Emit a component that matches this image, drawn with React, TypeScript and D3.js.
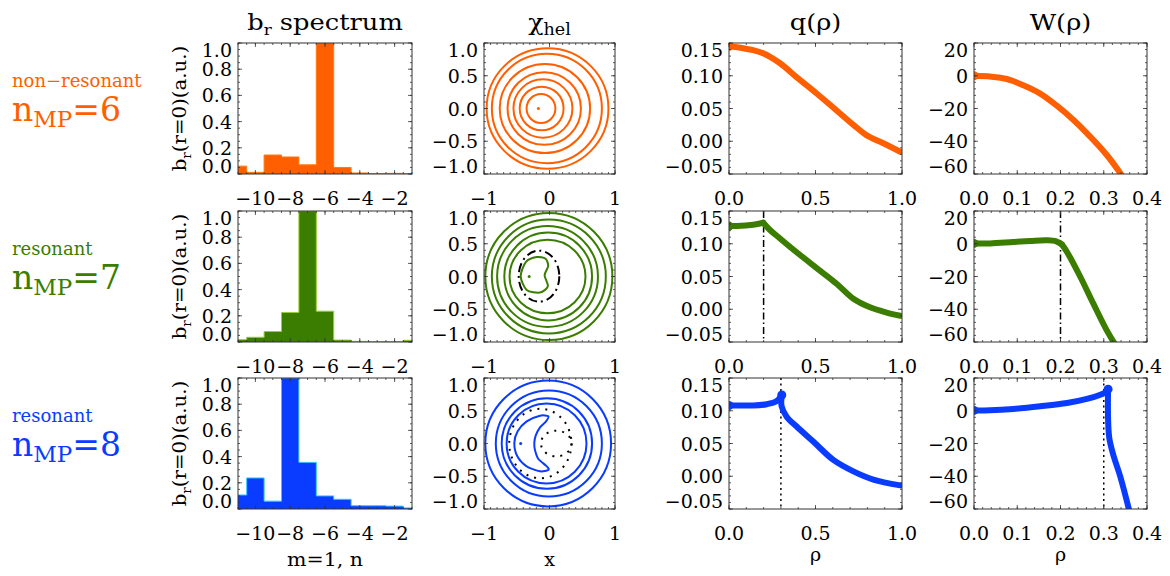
import React from "react";
import * as d3 from "d3";

// ---- values ----
const toroidalN = [-11, -10, -9, -8, -7, -6, -5, -4, -3, -2, -1];
const spectrumN6 = [0.06, 0.013, 0.145, 0.13, 0.07, 1.0, 0.05, 0.008, 0.004, 0.005, 0.003];
const spectrumN7 = [0.018, 0.036, 0.08, 0.225, 1.0, 0.235, 0.015, 0.005, 0.003, 0.003, 0.013];
const spectrumN8 = [0.107, 0.237, 0.06, 1.0, 0.356, 0.1, 0.074, 0.025, 0.025, 0.022, 0.008];

const rowColors = ["#ff5f00", "#3a7d00", "#0a3cff"];
const rowEdges = ["#ff7a10", "#9acd32", "#35c8ff"];
const rowKind = ["non\u2212resonant", "resonant", "resonant"];
const rowNmp = ["6", "7", "8"];

// helical flux surfaces as [cx, cy, rx, ry]
const surfacesN6 = [
  [-0.03, 0, 0.93, 0.92], [-0.04, 0, 0.84, 0.835], [-0.07, 0, 0.69, 0.68], [-0.08, 0, 0.56, 0.555],
  [-0.1, 0, 0.45, 0.445], [-0.12, 0, 0.335, 0.333], [-0.13, 0, 0.22, 0.22],
];
const surfacesN7 = [
  [-0.01, 0, 0.97, 0.97], [-0.01, 0, 0.87, 0.87], [-0.03, 0, 0.77, 0.77], [-0.02, 0, 0.67, 0.67], [-0.03, 0, 0.58, 0.56],
];
const surfacesN8 = [
  [-0.02, 0, 0.96, 0.96], [-0.01, 0, 0.81, 0.81], [-0.04, 0, 0.69, 0.69], [-0.045, 0, 0.61, 0.61],
];
const magAxis = [[-0.17, 0], [-0.31, 0], [-0.44, 0]];
const islandN7 = [
  [-0.196, 0.298], [-0.06, 0.27], [-0.02, 0.16], [-0.075, 0.02], [-0.025, -0.15],
  [-0.145, -0.245], [-0.349, -0.205], [-0.44, 0.003], [-0.359, 0.225],
];
const islandN8 = [
  [-0.018, 0.415], [-0.145, 0.425], [-0.349, 0.338], [-0.486, 0.186], [-0.537, 0.008],
  [-0.491, -0.196], [-0.349, -0.349], [-0.145, -0.425], [-0.013, -0.4], [-0.053, -0.338],
  [-0.17, -0.237], [-0.221, -0.104], [-0.232, 0.008], [-0.211, 0.12], [-0.145, 0.247], [-0.053, 0.338],
];
const separatrixN7 = [[-0.16, 0.005, 0.31, 0.39]];
const separatrixN8 = [[-0.14, 0, 0.475, 0.53], [0.104, 0, 0.234, 0.196]];

// q(rho), split into segments where the profile jumps
const qN6 = [[[0, 0.145], [0.035, 0.144], [0.14, 0.139], [0.2, 0.134], [0.295, 0.119], [0.39, 0.098], [0.507, 0.073],
  [0.622, 0.047], [0.719, 0.025], [0.796, 0.009], [0.892, -0.003], [0.99, -0.016]]];
const qN7 = [[[0, 0.127], [0.044, 0.127], [0.14, 0.129], [0.198, 0.132]],
  [[0.198, 0.132], [0.237, 0.121], [0.295, 0.108], [0.391, 0.087],
  [0.526, 0.059], [0.622, 0.039], [0.719, 0.016], [0.815, 0.003], [0.911, -0.005], [0.99, -0.01]]];
const qN8 = [[[0, 0.108], [0.044, 0.108], [0.14, 0.108], [0.218, 0.11], [0.276, 0.115], [0.305, 0.124]],
  [[0.305, 0.124], [0.304, 0.107], [0.333, 0.091], [0.391, 0.076], [0.487, 0.053], [0.603, 0.025],
  [0.719, 0.0075], [0.834, -0.005], [0.99, -0.014]]];

// W(rho)
const wN6 = [[[0, 0], [0.037, -0.5], [0.076, -2], [0.114, -5.8], [0.153, -10.9], [0.19, -18], [0.23, -27],
  [0.269, -37.3], [0.307, -48.4], [0.345, -62]]];
const wN7 = [[[0, 0.2], [0.037, 0.2], [0.091, 1.1], [0.13, 1.7], [0.168, 2.1], [0.19, 1.5], [0.203, -0.4]],
  [[0.203, -0.4], [0.215, -5], [0.246, -20.3], [0.276, -36.6], [0.307, -52.9], [0.33, -63]]];
const wN8 = [[[0, 0.2], [0.037, 0.3], [0.091, 1.1], [0.153, 2.7], [0.215, 4.7], [0.261, 7.2], [0.292, 9.8], [0.307, 11.8],
  [0.31, 13.2]],
  [[0.31, 13.2], [0.31, -5], [0.313, -17], [0.323, -27.8], [0.338, -40], [0.36, -62]]];

const islandRho = [null, 0.2, 0.3];
const islandDash = ["", "7,3,1.5,3", "2,3.5"];

const histXTicks = [-10, -8, -6, -4, -2];
const histYTicks = [0, 0.2, 0.4, 0.6, 0.8, 1.0];
const chiTicksX = [-1, 0, 1];
const chiTicksY = [-1, -0.5, 0, 0.5, 1];
const qTicksX = [0, 0.5, 1];
const qTicksY = [-0.05, 0, 0.05, 0.1, 0.15];
const wTicksX = [0, 0.1, 0.2, 0.3, 0.4];
const wTicksY = [-60, -40, -20, 0, 20];

const spectra = [spectrumN6, spectrumN7, spectrumN8];
const surfaces = [surfacesN6, surfacesN7, surfacesN8];
const qProfiles = [qN6, qN7, qN8];
const wProfiles = [wN6, wN7, wN8];

// ---- layout ----
const colLeft = [238, 484, 729, 974];
const colWidth = [174, 131, 173, 173];
const rowTop = [43, 211, 378];
const boxH = 131;
const FONT = "DejaVu Serif";

function Txt({ x, y, anchor = "middle", size = 19, sx = 1, rot = 0, fill = "#000", children }: any) {
  return (
    <text transform={`translate(${x},${y}) rotate(${rot}) scale(${sx},1)`} textAnchor={anchor}
      fontFamily={FONT} fontSize={size} fill={fill}>{children}</text>
  );
}

function Frame({ xs, ys, xTicks, xMinor, yTicks, yMinor, xFmt, yFmt }: any) {
  const [x0, x1] = xs.range();
  const [y1, y0] = ys.range();
  const [dx0, dx1] = xs.domain();
  const [dy0, dy1] = ys.domain();
  const minorX = d3.range(Math.ceil(dx0 / xMinor - 1e-6) * xMinor, dx1 + 1e-9, xMinor);
  const minorY = d3.range(Math.ceil(dy0 / yMinor - 1e-6) * yMinor, dy1 + 1e-9, yMinor);
  const major = 4, minor = 2;
  return (
    <g>
      <rect x={x0} y={y0} width={x1 - x0} height={y1 - y0} fill="none" stroke="#333" strokeWidth={1} />
      <g stroke="#333" strokeWidth={0.8}>
        {minorX.map((v, i) => (
          <g key={"mx" + i}>
            <line x1={xs(v)} x2={xs(v)} y1={y1} y2={y1 - minor} />
            <line x1={xs(v)} x2={xs(v)} y1={y0} y2={y0 + minor} />
          </g>
        ))}
        {minorY.map((v, i) => (
          <g key={"my" + i}>
            <line y1={ys(v)} y2={ys(v)} x1={x0} x2={x0 + minor} />
            <line y1={ys(v)} y2={ys(v)} x1={x1} x2={x1 - minor} />
          </g>
        ))}
        {xTicks.map((v: number, i: number) => (
          <g key={"Mx" + i}>
            <line x1={xs(v)} x2={xs(v)} y1={y1} y2={y1 - major} />
            <line x1={xs(v)} x2={xs(v)} y1={y0} y2={y0 + major} />
          </g>
        ))}
        {yTicks.map((v: number, i: number) => (
          <g key={"My" + i}>
            <line y1={ys(v)} y2={ys(v)} x1={x0} x2={x0 + major} />
            <line y1={ys(v)} y2={ys(v)} x1={x1} x2={x1 - major} />
          </g>
        ))}
      </g>
      {xTicks.map((v: number, i: number) => (
        <Txt key={"lx" + i} x={xs(v)} y={y1 + 31}>{xFmt(v)}</Txt>
      ))}
      {yTicks.map((v: number, i: number) => {
        const c = Math.max(y0 + 7, Math.min(y1 - 8, ys(v)));
        return <Txt key={"ly" + i} x={x0 - 6} y={c + 7} anchor="end">{yFmt(v)}</Txt>;
      })}
    </g>
  );
}

function Row({ r }: { r: number }) {
  const top = rowTop[r];
  const bottom = top + boxH;
  const color = rowColors[r];
  const clip = (c: number) => `url(#clip-${r}-${c})`;

  // spectrum
  const hx = d3.scaleLinear().domain([-11, -1]).range([colLeft[0], colLeft[0] + colWidth[0]]);
  const hy = d3.scaleLinear().domain([0, 1]).range([bottom, top]);
  const vals = spectra[r];
  const steps = toroidalN.map((n, i) => [n - 0.5, vals[i]]);
  steps.push([toroidalN[toroidalN.length - 1] + 0.5, vals[vals.length - 1]]);
  const hArea = d3.area<number[]>().x(d => hx(d[0])).y0(hy(0)).y1(d => hy(d[1])).curve(d3.curveStepAfter);
  const hLine = d3.line<number[]>().x(d => hx(d[0])).y(d => hy(d[1])).curve(d3.curveStepAfter);

  // chi_hel
  const cx = d3.scaleLinear().domain([-1, 1]).range([colLeft[1], colLeft[1] + colWidth[1]]);
  const cy = d3.scaleLinear().domain([-1, 1]).range([bottom, top]);
  const closed = d3.line<number[]>().x(d => cx(d[0])).y(d => cy(d[1])).curve(d3.curveCardinalClosed.tension(0.2));

  // q and W
  const qx = d3.scaleLinear().domain([0, 1]).range([colLeft[2], colLeft[2] + colWidth[2]]);
  const qy = d3.scaleLinear().domain([-0.05, 0.15]).range([bottom, top]);
  const wx = d3.scaleLinear().domain([0, 0.4]).range([colLeft[3], colLeft[3] + colWidth[3]]);
  const wy = d3.scaleLinear().domain([-60, 20]).range([bottom, top]);
  const qLine = d3.line<number[]>().x(d => qx(d[0])).y(d => qy(d[1])).curve(d3.curveCatmullRom.alpha(0.5));
  const wLine = d3.line<number[]>().x(d => wx(d[0])).y(d => wy(d[1])).curve(d3.curveCatmullRom.alpha(0.5));

  const fmt1 = d3.format(".1f");
  const fmt2 = d3.format(".2f");
  const fmtd = d3.format("d");

  const rho = islandRho[r];
  const q = qProfiles[r];
  const w = wProfiles[r];
  // dots at the axis, and at the island edge where the profile jumps
  const qDots = r === 2 ? [q[0][0], q[1][0]] : [q[0][0]];
  const wDots = r === 2 ? [w[0][0], w[1][0]] : [w[0][0]];

  return (
    <g>
      <defs>
        {[0, 1, 2, 3].map(c => (
          <clipPath id={`clip-${r}-${c}`} key={c}>
            <rect x={colLeft[c]} y={top} width={colWidth[c]} height={boxH} />
          </clipPath>
        ))}
      </defs>

      {/* row labels */}
      <Txt x={12} y={top + 44} anchor="start" size={18} fill={color}>{rowKind[r]}</Txt>
      <Txt x={12} y={top + 78} anchor="start" size={33} fill={color}>
        n<tspan fontSize={23} dy={6}>MP</tspan><tspan dy={-6}>={rowNmp[r]}</tspan>
      </Txt>

      {/* spectrum */}
      <g clipPath={clip(0)}>
        <path d={hArea(steps) || ""} fill={color} />
        <path d={hLine(steps) || ""} fill="none" stroke={rowEdges[r]} strokeWidth={1} />
      </g>
      <Frame xs={hx} ys={hy} xTicks={histXTicks} xMinor={0.5} yTicks={histYTicks} yMinor={0.05} xFmt={fmtd} yFmt={fmt1} />
      <Txt x={186} y={(top + bottom) / 2} rot={-90} size={19} sx={1.04}>
        b<tspan fontSize={13} dy={5}>r</tspan><tspan dy={-5}>(r=0)(a.u.)</tspan>
      </Txt>

      {/* chi_hel */}
      <g clipPath={clip(1)} fill="none" strokeWidth={2}>
        {surfaces[r].map((s, i) => (
          <ellipse key={i} cx={cx(s[0])} cy={cy(s[1])} rx={cx(s[2]) - cx(0)} ry={cy(0) - cy(s[3])} stroke={color} />
        ))}
        {r === 1 && <path d={closed(islandN7) || ""} stroke={color} />}
        {r === 2 && <path d={closed(islandN8) || ""} stroke={color} />}
        {r === 1 && separatrixN7.map((s, i) => (
          <ellipse key={"s" + i} cx={cx(s[0])} cy={cy(s[1])} rx={cx(s[2]) - cx(0)} ry={cy(0) - cy(s[3])}
            stroke="#000" strokeDasharray="9,4,2,4" />
        ))}
        {r === 2 && separatrixN8.map((s, i) => (
          <ellipse key={"s" + i} cx={cx(s[0])} cy={cy(s[1])} rx={cx(s[2]) - cx(0)} ry={cy(0) - cy(s[3])}
            stroke="#000" strokeDasharray="2,6" />
        ))}
        <circle cx={cx(magAxis[r][0])} cy={cy(magAxis[r][1])} r={1.5} fill={color} stroke="none" />
      </g>
      <Frame xs={cx} ys={cy} xTicks={chiTicksX} xMinor={0.1} yTicks={chiTicksY} yMinor={0.1} xFmt={fmtd} yFmt={fmt1} />

      {/* q(rho) */}
      <g clipPath={clip(2)}>
        {rho !== null && (
          <line x1={qx(rho)} x2={qx(rho)} y1={top} y2={bottom} stroke="#000" strokeWidth={1.5} strokeDasharray={islandDash[r]} />
        )}
        {q.map((seg, k) => (
          <path key={k} d={qLine(seg) || ""} fill="none" stroke={color} strokeWidth={6} strokeLinejoin="round" strokeLinecap="round" />
        ))}
        {qDots.map((p, i) => <circle key={i} cx={qx(p[0])} cy={qy(p[1])} r={4.5} fill={color} />)}
      </g>
      <Frame xs={qx} ys={qy} xTicks={qTicksX} xMinor={0.1} yTicks={qTicksY} yMinor={0.01} xFmt={fmt1} yFmt={fmt2} />

      {/* W(rho) */}
      <g clipPath={clip(3)}>
        {rho !== null && (
          <line x1={wx(rho)} x2={wx(rho)} y1={top} y2={bottom} stroke="#000" strokeWidth={1.5} strokeDasharray={islandDash[r]} />
        )}
        {w.map((seg, k) => (
          <path key={k} d={wLine(seg) || ""} fill="none" stroke={color} strokeWidth={6} strokeLinejoin="round" strokeLinecap="round" />
        ))}
        {wDots.map((p, i) => <circle key={i} cx={wx(p[0])} cy={wy(p[1])} r={4.5} fill={color} />)}
      </g>
      <Frame xs={wx} ys={wy} xTicks={wTicksX} xMinor={0.02} yTicks={wTicksY} yMinor={4} xFmt={fmt1} yFmt={fmtd} />
    </g>
  );
}

export default function App() {
  const titleY = 30;
  const mid = (c: number) => colLeft[c] + colWidth[c] / 2;
  return (
    <svg width={1170} height={576} style={{ position: "absolute", left: 0, top: 0, background: "#fff" }}>
      <rect width={1170} height={576} fill="#fff" />
      <Txt x={mid(0)} y={titleY} size={23} sx={1.12}>
        b<tspan fontSize={15} dy={5}>r</tspan><tspan dy={-5}> spectrum</tspan>
      </Txt>
      <Txt x={mid(1)} y={titleY} size={23} sx={1.1}>
        χ<tspan fontSize={16} dy={5}>hel</tspan>
      </Txt>
      <Txt x={mid(2)} y={titleY} size={23} sx={1.12}>q(ρ)</Txt>
      <Txt x={mid(3)} y={titleY} size={23} sx={1.12}>W(ρ)</Txt>
      {[0, 1, 2].map(r => <Row key={r} r={r} />)}
      <Txt x={mid(0)} y={566} size={19} sx={1.08}>m=1, n</Txt>
      <Txt x={mid(1)} y={566} size={19}>x</Txt>
      <Txt x={mid(2)} y={561} size={19}>ρ</Txt>
      <Txt x={mid(3)} y={561} size={19}>ρ</Txt>
    </svg>
  );
}
